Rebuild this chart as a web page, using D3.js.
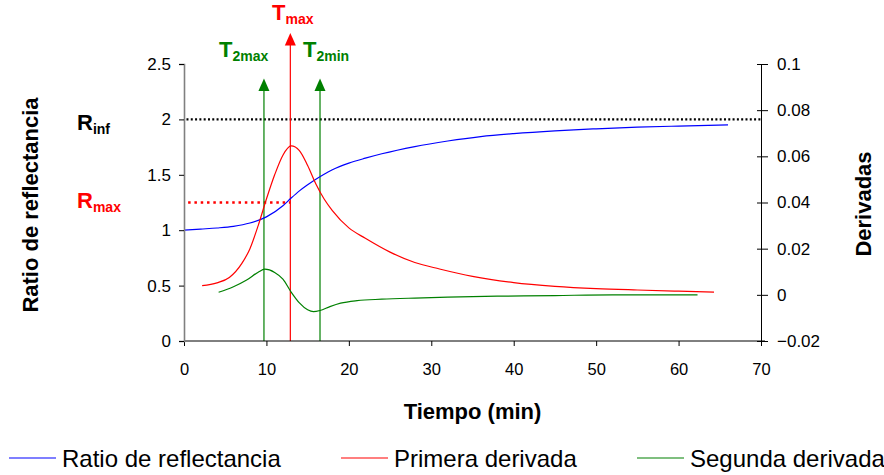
<!DOCTYPE html>
<html>
<head>
<meta charset="utf-8">
<script src="https://cdn.jsdelivr.net/npm/d3@7"></script>
<style>
  body { margin: 0; background: #fff; }
  svg text { font-family: Arial, "Liberation Sans", sans-serif; }
</style>
</head>
<body>
<div id="chart"></div>
<script>
// ratio de reflectancia (eje izquierdo)
var tRatio = [0, 2, 4, 6, 8, 10, 12, 13, 14, 15, 16, 17, 18, 20, 22, 24, 28, 32, 36, 40, 45, 50, 55, 60, 66];
var ratio = [1.00, 1.01, 1.02, 1.035, 1.065, 1.12, 1.22, 1.29, 1.355, 1.41, 1.46, 1.505, 1.545, 1.605, 1.65, 1.69, 1.755, 1.805, 1.845, 1.872, 1.897, 1.915, 1.93, 1.94, 1.95];

// primera derivada (eje derecho)
var tPrimera = [2.2, 4, 5.5, 7, 8, 9, 10, 11, 12, 13, 14, 15, 16, 17, 18, 20, 22, 25, 28, 31, 35, 40, 45, 50, 55, 60, 64.3];
var primera = [0.0040, 0.0052, 0.0075, 0.0135, 0.020, 0.030, 0.0415, 0.052, 0.0605, 0.0645, 0.0625, 0.056, 0.048, 0.0415, 0.0365, 0.0290, 0.0245, 0.0185, 0.0140, 0.0112, 0.0080, 0.0053, 0.0037, 0.0027, 0.0021, 0.0016, 0.0012];

// segunda derivada (eje derecho)
var tSegunda = [4.2, 6, 7.6, 9, 9.8, 11, 12, 13, 14, 15, 15.7, 16.5, 17.7, 19, 21, 24, 28, 32, 38, 45, 52, 62.3];
var segunda = [0.0011, 0.0035, 0.0064, 0.0098, 0.0111, 0.0097, 0.0068, 0.0012, -0.0035, -0.0065, -0.0073, -0.0068, -0.0051, -0.0036, -0.0025, -0.0019, -0.0014, -0.0010, -0.0006, -0.0003, 0.0, 0.0];

var xTicks = [0, 10, 20, 30, 40, 50, 60, 70];
var yLeftTicks = [0, 0.5, 1, 1.5, 2, 2.5];
var yRightTicks = [-0.02, 0, 0.02, 0.04, 0.06, 0.08, 0.1];

// marcas: tiempos y ratios caracteristicos
var tiempos = [9.7, 12.9, 16.5];            // T2max, Tmax, T2min
var puntaFlecha = [2.37, 2.78, 2.37];       // altura de la punta (unidades eje izq.)
var colorTiempos = ["#008000", "#ff0000", "#008000"];
var rInf = 2.0;
var rMax = 1.25;

var legendLabels = ["Ratio de reflectancia", "Primera derivada", "Segunda derivada"];
var legendColors = ["#0000ff", "#ff0000", "#008000"];

var renderChart = function(){
  var width = 884;
  var height = 475;
  var left = 184, right = 761, top = 64, bottom = 341;

  var svg = d3.select('#chart')
    .append('svg')
    .attr('width', width)
    .attr('height', height);

  var x = d3.scaleLinear().domain([0, 70]).range([left, right]);
  var yL = d3.scaleLinear().domain([0, 2.5]).range([bottom, top]);
  var yR = d3.scaleLinear().domain([-0.02, 0.1]).range([bottom, top]);

  // linea punteada R inf
  svg.append('line')
    .attr('x1', x(0.3)).attr('x2', x(70))
    .attr('y1', yL(rInf)).attr('y2', yL(rInf))
    .attr('stroke', '#000')
    .attr('stroke-width', 2.2)
    .attr('stroke-dasharray', '2,2.3');

  // linea punteada R max
  svg.append('line')
    .attr('x1', x(0.5)).attr('x2', x(tiempos[1]))
    .attr('y1', yL(rMax)).attr('y2', yL(rMax))
    .attr('stroke', '#ff0000')
    .attr('stroke-width', 2.5)
    .attr('stroke-dasharray', '2.5,3.8');

  // flechas verticales
  tiempos.forEach(function(t, i){
    var px = x(t);
    var tip = yL(puntaFlecha[i]);
    svg.append('line')
      .attr('x1', px).attr('x2', px)
      .attr('y1', bottom).attr('y2', tip + 10)
      .attr('stroke', colorTiempos[i])
      .attr('stroke-width', 1.2);
    svg.append('path')
      .attr('d', 'M' + px + ',' + tip + 'L' + (px - 5.5) + ',' + (tip + 12.5) + 'L' + (px + 5.5) + ',' + (tip + 12.5) + 'Z')
      .attr('fill', colorTiempos[i]);
  });

  // series
  var series = [
    { t: tRatio, v: ratio, y: yL, color: legendColors[0] },
    { t: tPrimera, v: primera, y: yR, color: legendColors[1] },
    { t: tSegunda, v: segunda, y: yR, color: legendColors[2] }
  ];
  series.forEach(function(s){
    var line = d3.line()
      .x(function(d, i){ return x(s.t[i]); })
      .y(function(d){ return s.y(d); })
      .curve(d3.curveMonotoneX);
    svg.append('path')
      .attr('d', line(s.v))
      .attr('fill', 'none')
      .attr('stroke', s.color)
      .attr('stroke-width', 1.2);
  });

  // ejes
  var xAxis = svg.append('g')
    .attr('transform', 'translate(0,' + bottom + ')')
    .call(d3.axisBottom(x).tickValues(xTicks).tickSizeOuter(0).tickSize(5).tickPadding(17));
  xAxis.selectAll('text').attr('font-size', 16.5).attr('fill', '#000');
  xAxis.selectAll('line, path').attr('stroke', '#000');

  var yAxisL = svg.append('g')
    .attr('transform', 'translate(' + left + ',0)')
    .call(d3.axisLeft(yL).tickValues(yLeftTicks).tickFormat(d3.format('')).tickSizeOuter(0).tickSize(5).tickPadding(8));
  yAxisL.selectAll('text').attr('font-size', 17).attr('fill', '#000');
  yAxisL.selectAll('line').attr('stroke', '#000');
  yAxisL.select('.domain').attr('stroke', '#808080').attr('stroke-width', 1.6);

  var yAxisR = svg.append('g')
    .attr('transform', 'translate(' + right + ',0)')
    .call(d3.axisRight(yR).tickValues(yRightTicks).tickFormat(d3.format('')).tickSizeOuter(0).tickSize(7).tickPadding(9));
  yAxisR.selectAll('.tick line').attr('x1', -4);
  yAxisR.selectAll('text').attr('font-size', 17).attr('fill', '#000');
  yAxisR.selectAll('line, path').attr('stroke', '#000');
  svg.selectAll('.domain').filter(function(){ return this.parentNode === xAxis.node(); })
    .attr('d', 'M' + left + ',0H' + (right + 4));

  // titulos de ejes
  svg.append('text')
    .attr('x', (left + right) / 2).attr('y', 419)
    .attr('text-anchor', 'middle')
    .attr('font-size', 22).attr('font-weight', 'bold')
    .text('Tiempo (min)');

  svg.append('text')
    .attr('transform', 'translate(38,205) rotate(-90)')
    .attr('text-anchor', 'middle')
    .attr('font-size', 22).attr('font-weight', 'bold')
    .text('Ratio de reflectancia');

  svg.append('text')
    .attr('transform', 'translate(871,204) rotate(-90)')
    .attr('text-anchor', 'middle')
    .attr('font-size', 22).attr('font-weight', 'bold')
    .text('Derivadas');

  // etiquetas con subindice
  var labelSub = function(px, py, main, sub, color){
    var t = svg.append('text')
      .attr('x', px).attr('y', py)
      .attr('font-weight', 'bold')
      .attr('fill', color);
    t.append('tspan').attr('font-size', 22).text(main);
    t.append('tspan').attr('font-size', 14).attr('dy', 4).text(sub);
  };
  labelSub(272, 20, 'T', 'max', '#ff0000');
  labelSub(219, 57, 'T', '2max', '#008000');
  labelSub(303, 57, 'T', '2min', '#008000');
  labelSub(77, 130, 'R', 'inf', '#000');
  labelSub(77, 208, 'R', 'max', '#ff0000');

  // leyenda
  var legendX = [9, 341, 637];
  var legend = svg.selectAll('g.legend')
    .data(legendLabels)
    .enter()
    .append('g')
    .attr('class', 'legend')
    .attr('transform', function(d, i){ return 'translate(' + legendX[i] + ',458)'; });
  legend.append('line')
    .attr('x1', 0).attr('x2', 47)
    .attr('stroke', function(d, i){ return legendColors[i]; })
    .attr('stroke-width', 1.2);
  legend.append('text')
    .attr('x', 53).attr('y', 8.5)
    .attr('font-size', 24)
    .text(function(d){ return d; });
}

renderChart();
</script>
</body>
</html>
